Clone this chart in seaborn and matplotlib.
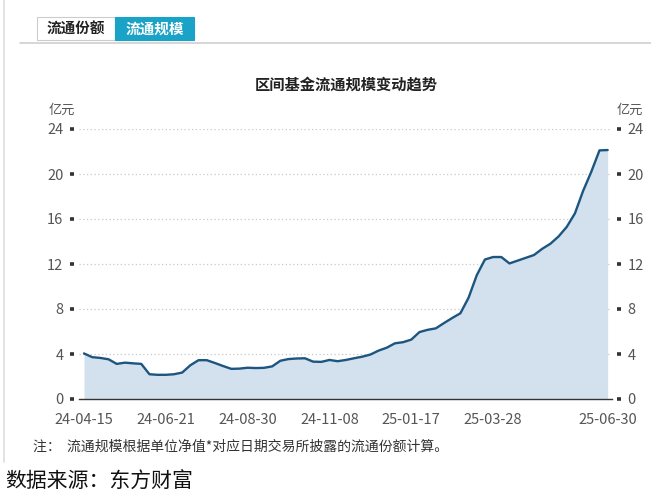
"""
区间基金流通规模变动趋势 - recreated with seaborn.
"""
import matplotlib
matplotlib.use("Agg")
import matplotlib.pyplot as plt
import matplotlib.patches as mpatches
import matplotlib.transforms as mtransforms
import seaborn as sns
import pandas as pd
import numpy as np

# ---- data (亿元) ----
dates = (["2024-04-15"]
         + [d.strftime("%Y-%m-%d") for d in pd.date_range("2024-04-19", "2025-06-27", freq="7D")]
         + ["2025-06-30"])
scale = [4.05, 3.72, 3.65, 3.53, 3.12, 3.23, 3.17, 3.12, 2.20, 2.15,
         2.15, 2.20, 2.35, 3.00, 3.45, 3.45, 3.20, 2.93, 2.68, 2.70,
         2.78, 2.75, 2.77, 2.90, 3.40, 3.55, 3.60, 3.62, 3.32, 3.30,
         3.47, 3.36, 3.47, 3.62, 3.76, 3.95, 4.30, 4.56, 4.95, 5.05,
         5.28, 5.95, 6.15, 6.28, 6.75, 7.20, 7.62, 9.00, 11.00, 12.40,
         12.62, 12.62, 12.05, 12.30, 12.55, 12.80, 13.35, 13.80, 14.45, 15.30,
         16.50, 18.50, 20.20, 22.10, 22.13]
tick_idx = [0, 10, 20, 30, 40, 50, 60, 64]
tick_labels = ["24-04-15", "24-06-21", "24-08-30", "24-11-08",
               "25-01-17", "25-03-28", "", "25-06-30"]
y_ticks = [0, 4, 8, 12, 16, 20, 24]

title = "区间基金流通规模变动趋势"
unit = "亿元"
tabs = ["流通份额", "流通规模"]
note = "注：  流通规模根据单位净值*对应日期交易所披露的流通份额计算。"
source = "数据来源：东方财富"

df = pd.DataFrame({"idx": np.arange(len(scale)), "date": dates, "scale": scale})

sns.set_theme(style="white")
plt.rcParams["font.family"] = ["Noto Sans CJK SC", "DejaVu Sans"]

LINE = "#1c5580"
FILL = "#d2e1ed"
TEAL = "#1aa3c7"
GRAY = "#555555"

W, H = 651, 500
fig = plt.figure(figsize=(W / 100, H / 100), dpi=100)
fig.patch.set_facecolor("white")

# card frame and tab bar
fig.add_artist(plt.Line2D([4 / W, 4 / W], [1, 1 - 462 / H], color="#dddddd", lw=1.2))
fig.add_artist(plt.Line2D([20 / W, 1], [1 - 43 / H, 1 - 43 / H], color="#cfcfcf", lw=1.2))
fig.add_artist(mpatches.Rectangle((37 / W, 1 - 40 / H), 78 / W, 23 / H,
                                  facecolor="white", edgecolor="#cccccc", lw=0.8))
fig.add_artist(mpatches.Rectangle((115 / W, 1 - 40 / H), 79 / W, 23 / H,
                                  facecolor=TEAL, edgecolor=TEAL, lw=0.8))
fig.text(76 / W, 1 - 28.5 / H, tabs[0], ha="center", va="center",
         fontsize=10.5, fontweight="bold", color="#222222")
fig.text(154.5 / W, 1 - 28.5 / H, tabs[1], ha="center", va="center",
         fontsize=10.5, fontweight="bold", color="white")

# ---- main chart ----
ax = fig.add_axes([79 / W, 1 - 399 / H, 533 / W, 270 / H])
ax.set_facecolor("none")
ax.fill_between(df["idx"], 0, df["scale"], color=FILL, lw=0, zorder=1)
sns.lineplot(data=df, x="idx", y="scale", ax=ax, color=LINE, lw=1.7, zorder=3)

ax.set_xlim(-0.61, 64.53)
ax.set_ylim(0, 24)
ax.set_yticks(y_ticks)
ax.set_xticks(tick_idx)
ax.set_xticklabels(tick_labels)
ax.set_xlabel("")
ax.set_ylabel("")

for y in y_ticks[1:]:
    ax.axhline(y, color="#c8c8c8", lw=0.9, ls=(0, (1, 2)), zorder=0)

for s in ["top", "left", "right"]:
    ax.spines[s].set_visible(False)
ax.spines["bottom"].set_color("#333333")
ax.spines["bottom"].set_linewidth(1.0)
ax.spines["bottom"].set_zorder(4)

ax.tick_params(axis="x", direction="out", length=4, width=1, color="#333333",
               labelsize=10.5, labelcolor=GRAY, pad=6)
ax.tick_params(axis="y", which="both", left=True, right=True, labelleft=True,
               labelright=True, length=2.6, width=2.6, color="#333333",
               labelsize=10.5, labelcolor=GRAY, pad=5)
# shift y tick squares a little outward like the original
off_l = mtransforms.ScaledTranslation(-5 / 100, 0, fig.dpi_scale_trans)
off_r = mtransforms.ScaledTranslation(5 / 100, 0, fig.dpi_scale_trans)
for t in ax.yaxis.get_major_ticks():
    t.tick1line.set_transform(t.tick1line.get_transform() + off_l)
    t.tick2line.set_transform(t.tick2line.get_transform() + off_r)
    t.label1.set_transform(t.label1.get_transform() + off_l)
    t.label2.set_transform(t.label2.get_transform() + off_r)

# texts
fig.text(346 / W, 1 - 85 / H, title, ha="center", va="center",
         fontsize=11, fontweight="bold", color="#222222")
fig.text(62 / W, 1 - 110 / H, unit, ha="center", va="center", fontsize=9.5, color=GRAY)
fig.text(630 / W, 1 - 110 / H, unit, ha="center", va="center", fontsize=9.5, color=GRAY)
fig.text(33 / W, 1 - 447 / H, note, ha="left", va="center", fontsize=10, color="#333333")
fig.text(5 / W, 1 - 482 / H, source, ha="left", va="center", fontsize=15, color="#111111")

fig.savefig("out.png", dpi=100)
